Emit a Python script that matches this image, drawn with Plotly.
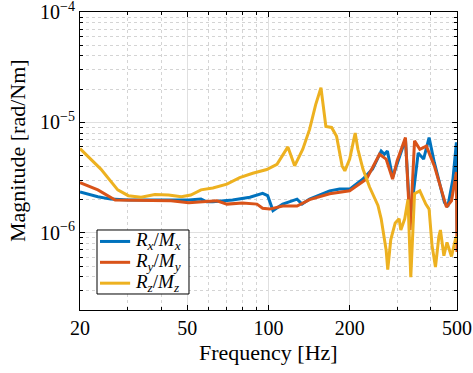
import plotly.graph_objects as go

# Rx/Mx
fx = [20, 23.3, 26.0, 30.2, 39.9, 50.6, 56.2, 59.0, 62.2, 73.6, 85.3, 95.1, 99.3, 103.9, 112.9, 127.6, 133.2, 142, 168.5, 183.5, 200, 224, 243, 261.7, 269, 276, 288.5, 305, 322, 335, 348, 359, 376, 394, 412, 449, 462, 483, 497.5, 500]
mx = [2.34e-6, 2.12e-6, 2.02e-6, 1.98e-6, 1.98e-6, 1.98e-6, 2.02e-6, 1.91e-6, 1.91e-6, 1.98e-6, 2.10e-6, 2.28e-6, 2.17e-6, 1.59e-6, 1.82e-6, 2.02e-6, 1.82e-6, 2.02e-6, 2.40e-6, 2.49e-6, 2.49e-6, 3.07e-6, 3.78e-6, 5.51e-6, 5.14e-6, 5.51e-6, 3.18e-6, 4.77e-6, 7.03e-6, 1.3e-6, 2.7e-6, 5.3e-6, 4.65e-6, 7.28e-6, 4.34e-6, 1.89e-6, 1.72e-6, 3.07e-6, 6.6e-6, 1.0e-6]

# Ry/My
fy = [20, 23.3, 27.0, 34.8, 43.5, 50.6, 55.6, 64.4, 70.1, 80.1, 90.6, 95.1, 101, 112.9, 127.6, 142, 168.5, 200, 231, 258, 273, 288.5, 300, 322, 335, 348, 364, 385, 412, 457, 477, 497.5, 500]
my = [2.85e-6, 2.45e-6, 1.98e-6, 1.98e-6, 1.95e-6, 1.87e-6, 1.91e-6, 1.95e-6, 1.82e-6, 1.86e-6, 1.82e-6, 1.67e-6, 1.64e-6, 1.75e-6, 1.75e-6, 2.0e-6, 2.26e-6, 2.4e-6, 3.07e-6, 5.14e-6, 4.65e-6, 3.07e-6, 4.5e-6, 7.28e-6, 1.06e-6, 6.8e-6, 5.7e-6, 6.1e-6, 4.04e-6, 1.71e-6, 1.95e-6, 3.55e-6, 6.7e-7]

# Rz/Mz
fz = [20, 23.9, 27.6, 30.2, 33.7, 37.9, 42.6, 47.5, 51.5, 56.2, 62.2, 70.1, 78.2, 87.4, 98.5, 107.5, 118, 125, 134, 142, 149.6, 156.5, 163.2, 171.4, 178.8, 187.5, 191.9, 200, 209.6, 214.5, 224, 237, 254.6, 261.7, 273, 276.8, 284, 295, 305, 309.5, 320, 329, 337, 348, 364, 383, 394, 404, 416, 428.4, 434, 447, 459, 477, 493, 500]
mz = [5.8e-6, 3.78e-6, 2.45e-6, 2.17e-6, 2.1e-6, 2.22e-6, 2.2e-6, 2.12e-6, 2.2e-6, 2.45e-6, 2.55e-6, 2.76e-6, 3.16e-6, 3.46e-6, 3.74e-6, 4.18e-6, 6.0e-6, 4.04e-6, 5.71e-6, 8.65e-6, 1.45e-5, 2.06e-5, 9.2e-6, 9.0e-6, 7.5e-6, 4.04e-6, 3.64e-6, 4.65e-6, 8.0e-6, 5.71e-6, 3.78e-6, 2.6e-6, 1.77e-6, 1.34e-6, 7.0e-7, 4.65e-7, 8.65e-7, 1.23e-6, 1.34e-6, 1.06e-6, 1.34e-6, 2.0e-6, 3.96e-7, 2.26e-6, 2.4e-6, 1.82e-6, 1.64e-6, 7.7e-7, 4.9e-7, 9.3e-7, 1.06e-6, 6.2e-7, 8.2e-7, 6.1e-7, 8.65e-7, 9.3e-7]

x_ticks = [20, 50, 100, 200, 500]
x_labels = ["20", "50", "100", "200", "500"]
x_minor = [30, 40, 60, 70, 80, 90, 300, 400]
y_ticks = [1e-6, 1e-5, 1e-4]
y_labels = ["10<sup>−6</sup>", "10<sup>−5</sup>", "10<sup>−4</sup>"]
y_minor = [m * 10.0 ** e for e in (-7, -6, -5) for m in range(2, 10)]

names = ["<i>R<sub>x</sub></i>/<i>M<sub>x</sub></i>",
         "<i>R<sub>y</sub></i>/<i>M<sub>y</sub></i>",
         "<i>R<sub>z</sub></i>/<i>M<sub>z</sub></i>"]
colors = ["#0072BD", "#D95319", "#EDB120"]

fig = go.Figure()
for f, m, n, c in zip([fx, fy, fz], [mx, my, mz], names, colors):
    fig.add_trace(go.Scatter(x=f, y=m, mode="lines", name=n, showlegend=False,
                             line=dict(color=c, width=3)))

font = "Liberation Serif"
axis_common = dict(
    showline=True, linecolor="black", linewidth=1, mirror="ticks",
    ticks="inside", ticklen=5, tickcolor="black",
    showgrid=True, gridcolor="#e0e0e0", gridwidth=1,
    zeroline=False, automargin=False, ticklabeloverflow="allow",
    tickfont=dict(family=font, size=20, color="black"),
)
fig.update_xaxes(type="log", range=[1.30103, 2.69897],
                 tickmode="array", tickvals=x_ticks, ticktext=x_labels,
                 minor=dict(tickmode="array", tickvals=x_minor, ticks="inside",
                            ticklen=3, tickcolor="black", showgrid=True,
                            gridcolor="#d4d4d4", griddash="dot"),
                 **axis_common)
fig.update_yaxes(type="log", range=[-6.69897, -4],
                 tickmode="array", tickvals=y_ticks, ticktext=y_labels,
                 minor=dict(tickmode="array", tickvals=y_minor, ticks="inside",
                            ticklen=3, tickcolor="black", showgrid=True,
                            gridcolor="#d4d4d4", griddash="dot"),
                 **axis_common)

fig.add_annotation(text="Frequency [Hz]", xref="paper", yref="paper",
                   x=0.5, y=-0.141, xanchor="center", yanchor="middle",
                   showarrow=False, font=dict(family=font, size=22, color="black"))
fig.add_annotation(text="Magnitude [rad/Nm]", xref="paper", yref="paper",
                   x=-0.164, y=0.534, xanchor="center", yanchor="middle", textangle=-90,
                   showarrow=False, font=dict(family=font, size=22, color="black"))

# legend box drawn by hand
fig.add_shape(type="rect", xref="paper", yref="paper", x0=0.0451, x1=0.2891,
              y0=0.0537, y1=0.2685, line=dict(color="black", width=1),
              fillcolor="white", layer="above")
row_y = [0.230, 0.160, 0.090]
for n, c, yy in zip(names, colors, row_y):
    fig.add_shape(type="line", xref="paper", yref="paper", x0=0.053, x1=0.133,
                  y0=yy, y1=yy, line=dict(color=c, width=3), layer="above")
    fig.add_annotation(text=n, xref="paper", yref="paper", x=0.141, y=yy,
                       xanchor="left", yanchor="middle", showarrow=False,
                       font=dict(family=font, size=19, color="black"))

fig.update_layout(
    width=473, height=373,
    margin=dict(l=80, r=16, t=12, b=63),
    plot_bgcolor="white", paper_bgcolor="white",
    font=dict(family=font, size=17, color="black"),
    showlegend=False,
)

fig.write_html("out.html", config={"displayModeBar": False},
               post_script="document.body.style.margin='0';document.body.style.overflow='hidden';")
